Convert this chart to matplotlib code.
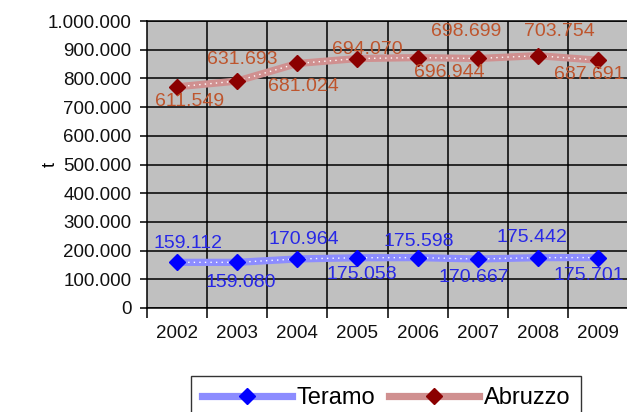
import numpy as np
import matplotlib
matplotlib.use("Agg")
import matplotlib.pyplot as plt
from matplotlib.lines import Line2D

plt.rcParams['font.family'] = ['Liberation Sans', 'DejaVu Sans']

# data (t) - the chart is a stacked line: Abruzzo sits on top of Teramo
years = ['2002', '2003', '2004', '2005', '2006', '2007', '2008', '2009']
teramo = [159112, 159080, 170964, 175058, 175598, 170667, 175442, 175701]
abruzzo = [611549, 631693, 681024, 694070, 696944, 698699, 703754, 687691]
teramo_lbl = ['159.112', '159.080', '170.964', '175.058', '175.598', '170.667', '175.442', '175.701']
abruzzo_lbl = ['611.549', '631.693', '681.024', '694.070', '696.944', '698.699', '703.754', '687.691']
yticks = [0, 100000, 200000, 300000, 400000, 500000, 600000, 700000, 800000, 900000, 1000000]
ytick_lbl = ['0', '100.000', '200.000', '300.000', '400.000', '500.000',
             '600.000', '700.000', '800.000', '900.000', '1.000.000']

# label offsets in pixels (dx, dy up) - labels were dragged around by hand
off_t = [(11, 19), (4, -20), (7, 19), (4, -17), (1, 16), (-4, -18), (-6, 20), (-9, -18)]
off_a = [(12, -15), (5, 22), (6, -23), (10, 9), (32, -15), (-12, 27), (22, 24), (-9, -14)]

x = np.arange(len(years))
t_vals = np.array(teramo)
a_vals = t_vals + np.array(abruzzo)

fig = plt.figure(figsize=(6.27, 4.12), dpi=100)
ax = fig.add_axes([147 / 627, 1 - 308 / 412, 481 / 627, 287 / 412])
ax.set_facecolor('#C0C0C0')

ax.set_xlim(-0.5, 7.5)
ax.set_ylim(0, 1000000)

for yv in yticks:
    ax.axhline(yv, color='black', lw=1.1, zorder=1)
for b in np.arange(0.5, 7.5, 1):
    ax.axvline(b, color='black', lw=1.1, zorder=1)


def draw_series(vals, light, dark):
    ax.plot(x, vals, color=light, lw=5.2, solid_capstyle='butt', zorder=3)
    ax.plot(x, vals, color='white', lw=1.0, ls=(0, (1, 3)), zorder=4)
    ax.plot(x, vals, ls='none', marker='D', ms=8.5, color=dark, zorder=5)


draw_series(t_vals, '#8C8CFF', '#0000FF')
draw_series(a_vals, '#D09090', '#8B0000')

for i in range(len(years)):
    ax.annotate(teramo_lbl[i], (x[i], t_vals[i]), xytext=(off_t[i][0] * 0.72, off_t[i][1] * 0.72),
                textcoords='offset points', ha='center', va='center',
                color='#2828E6', fontsize=14, zorder=6, annotation_clip=False)
    ax.annotate(abruzzo_lbl[i], (x[i], a_vals[i]), xytext=(off_a[i][0] * 0.72, off_a[i][1] * 0.72),
                textcoords='offset points', ha='center', va='center',
                color='#BE552D', fontsize=14, zorder=6, annotation_clip=False)

ax.set_yticks(yticks)
ax.set_yticklabels(ytick_lbl, fontsize=13.5, color='#111111')
ax.set_xticks(np.arange(-0.5, 8, 1), minor=False)
ax.set_xticklabels([])
ax.set_xticks(x, minor=True)
ax.set_xticklabels(years, minor=True, fontsize=13.5, color='#111111')
ax.tick_params(axis='x', which='major', length=7, width=1.1, direction='out')
ax.tick_params(axis='x', which='minor', length=0, pad=12)
ax.tick_params(axis='y', length=5, width=1.1, pad=6)
for s in ax.spines.values():
    s.set_linewidth(1.1)
ax.spines['right'].set_visible(False)

fig.text(50 / 627, 1 - 164 / 412, 't', rotation=90, ha='center', va='center', fontsize=13)

h_t = Line2D([], [], color='#8C8CFF', lw=5.2, marker='D', ms=8.5, mfc='#0000FF', mec='#0000FF')
h_a = Line2D([], [], color='#D09090', lw=5.2, marker='D', ms=8.5, mfc='#8B0000', mec='#8B0000')
fig.legend([h_t, h_a], ['Teramo', 'Abruzzo'], loc='center',
           bbox_to_anchor=(386 / 627, 1 - 398 / 412), ncol=2, fontsize=17,
           frameon=True, fancybox=False, edgecolor='black', handlelength=3.8,
           handletextpad=0.2, columnspacing=0.6, borderpad=0.45)

fig.savefig('out.png', dpi=100)
